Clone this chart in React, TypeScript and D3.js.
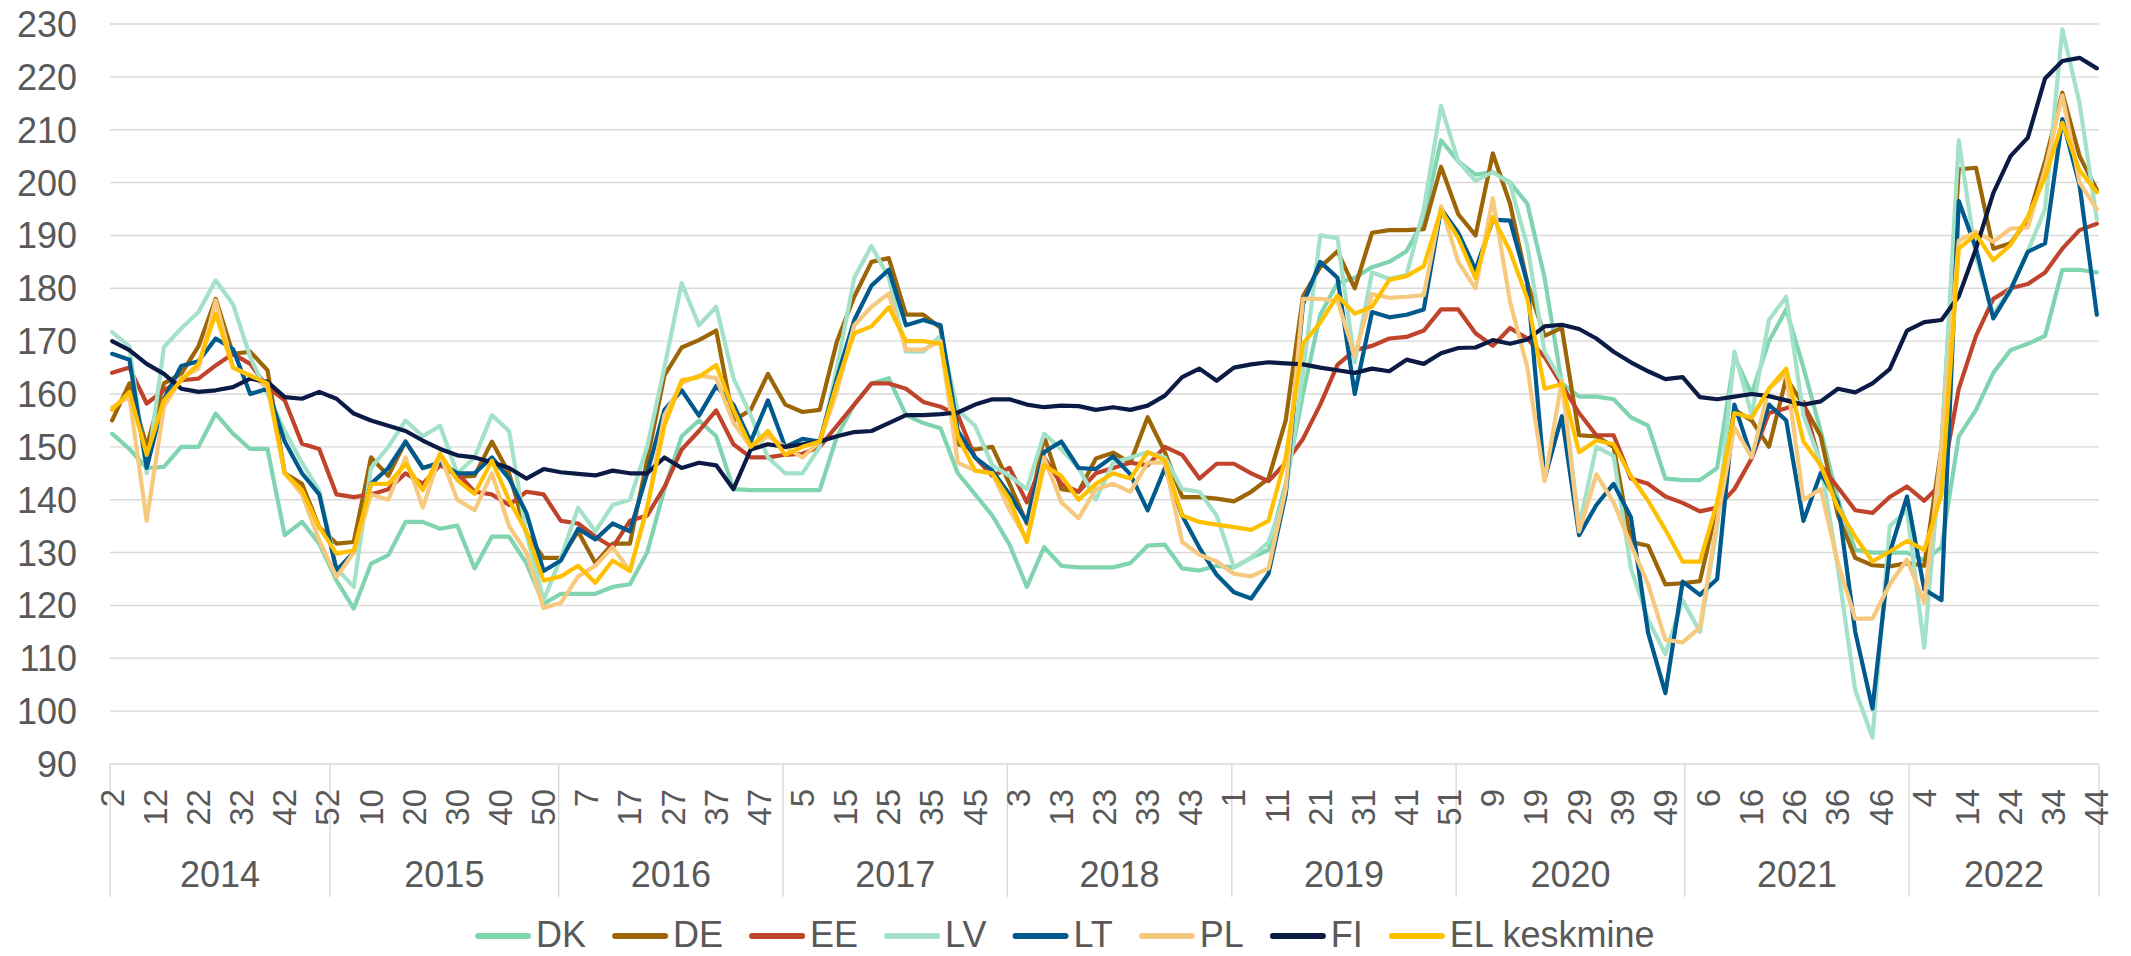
import React from 'react';
import * as d3 from 'd3';

// ---------- categories ----------
const years = [2014, 2015, 2016, 2017, 2018, 2019, 2020, 2021, 2022];
const weeksPerYear = [52, 53, 52, 52, 52, 52, 53, 52, 52];
const firstWeek = 2;
const lastWeek = 44;
const sampleStep = 4; // values below are read every 4th week
const tickStep = 10; // week labels every 10th week
const yTicks = [90, 100, 110, 120, 130, 140, 150, 160, 170, 180, 190, 200, 210, 220, 230];

const seriesNames = ['DK', 'DE', 'EE', 'LV', 'LT', 'PL', 'FI', 'EL keskmine'];
const seriesColors = ['#80d4b0', '#9c6506', '#c0442b', '#a3e2c8', '#005a8e', '#f6c97f', '#0b1b46', '#ffc000'];

// ---------- series values (every 4th week, from 2014 week 2) ----------
const dk = [
  152.5, 149.6, 146, 146.2, 150, 150, 156.3, 152.5, 149.6, 149.6, 133.3, 135.8, 131.7,
  124.7, 119.4, 127.9, 129.5, 135.8, 135.8, 134.5, 135.1, 127, 133, 133, 128, 120.3,
  122.2, 122.2, 122.2, 123.5, 124, 130, 142, 152, 155, 152, 142, 141.8, 141.8,
  141.8, 141.8, 141.8, 152, 158, 162, 163, 156, 154.5, 153.5, 145, 141, 137,
  131.5, 123.5, 131, 127.5, 127.2, 127.2, 127.2, 128, 131.3, 131.5, 127, 126.6, 127.5,
  127.2, 129, 130.5, 143, 160, 175, 181, 182, 184, 185, 187, 193, 208,
  204, 201.5, 202, 200, 196, 182, 162, 159.5, 159.5, 159, 155.6, 154, 144, 143.7,
  143.7, 146, 167, 160, 170, 176, 165, 153, 140, 130.5, 130, 130, 130,
  128.5, 131, 152, 157, 164, 168.3, 169.5, 171, 183.5, 183.5, 183,
];
const de = [
  155, 162, 150, 162, 163.8, 169, 178, 167.6, 168, 164.5, 145, 143, 134.8,
  131.7, 132, 148, 144.5, 151, 146, 147, 144.3, 144.5, 151, 145, 133.6, 129,
  129, 134, 128, 131.7, 131.7, 147.5, 163.5, 168.8, 170.2, 172, 155, 157, 163.8,
  158, 156.6, 157, 170, 178.4, 185, 185.7, 175, 175, 172.5, 150.5, 149.5, 150,
  143, 135.5, 152, 142, 141.5, 147.8, 148.9, 147, 155.6, 149, 140.5, 140.5, 140.2,
  139.7, 141.5, 144, 155, 178.5, 184, 187, 180, 190.5, 191, 191, 191.2, 203,
  194, 190, 205.5, 196, 181, 171, 172.5, 152.2, 152, 150, 132, 131.3, 124, 124.2,
  124.6, 138.7, 157, 155, 150, 163, 158, 152, 137, 129, 127.6, 127.4, 128,
  127.5, 150, 202.5, 202.8, 187.5, 188.5, 193, 204, 217, 205, 198.6,
];
const ee = [
  164, 165, 158.2, 160.7, 162.6, 162.9, 165.4, 167.6, 165.7, 161.3, 158.8, 150.6, 149.6,
  141, 140.5, 141, 142, 145, 143, 146.5, 145, 141.5, 141, 139, 141.5, 141,
  136, 135.5, 133, 131, 136, 137, 142.4, 149.5, 153, 156.9, 150.5, 148, 148,
  148.5, 148.7, 150, 154, 158, 162, 162, 161, 158.5, 157.6, 156, 148, 144.5,
  146, 139.5, 148, 143, 141.5, 145, 146, 147, 146.5, 150, 148.5, 144, 146.8,
  146.8, 145, 143.5, 147, 151.5, 158, 165.5, 168.3, 169.1, 170.5, 170.8, 172, 176,
  176, 171.5, 169.1, 172.5, 170.5, 167, 161.7, 156.4, 152.2, 152.2, 144, 143, 140.6, 139.4,
  137.8, 138.5, 142, 147.8, 156.4, 157.3, 158.5, 146.5, 142.3, 138, 137.5, 140.5, 142.5,
  139.8, 143, 161, 171, 178, 180, 180.8, 183, 187.5, 191, 192.2,
];
const lv = [
  171.7, 169, 145, 168.9, 172.4, 175.5, 181.5, 177, 167, 160, 153, 147, 141.7,
  127, 123.5, 146, 150, 155, 152, 154, 145, 148, 156, 153, 133.6, 121,
  129, 138.5, 134, 139, 140, 150, 165, 181, 173, 176.5, 163, 156, 148,
  145, 145, 150, 165, 182, 188, 182, 168, 168, 171, 157, 154, 146.5,
  144.5, 142, 152.5, 149.5, 146, 140, 147, 148, 149, 148, 142, 141.5, 137,
  127.2, 129, 132, 141, 164, 190, 189.5, 166, 183, 181.8, 182.5, 195, 214.5,
  204, 200.3, 202, 199.8, 188, 168, 162.5, 135, 150, 148.3, 127, 117.3, 110.8, 121,
  115, 135, 168, 156, 174, 178.4, 156, 147, 127, 104, 95, 135, 138,
  112, 150, 208, 186, 175, 180, 187, 195, 229, 215, 193,
];
const lt = [
  167.6, 166.5, 146, 159, 165.3, 166.2, 170.5, 168.5, 160, 161, 151, 145, 141,
  126.6, 130, 143, 146, 151, 146, 147, 145, 145, 148, 144, 137.5, 126.5,
  128.5, 134.5, 132.5, 135.5, 134, 145, 157, 160.7, 155.9, 161.5, 158, 151, 158.8,
  150, 151.5, 151, 163, 174, 180.5, 183.5, 173, 174, 173, 153, 148, 145.5,
  141, 135.8, 149, 151, 146, 145.8, 148.2, 144.8, 138, 146, 137, 130.9, 125.8,
  122.5, 121.3, 126, 141, 177, 185, 182, 160, 175.5, 174.5, 175, 176, 195,
  190.5, 183.5, 193, 192.8, 181, 144, 155.8, 133.3, 139, 143, 136.7, 114.8, 103.4, 124.5,
  122, 125, 158, 148, 158, 155, 136, 145, 139.5, 115, 100.5, 130, 140.6,
  123, 121, 196.5, 187.5, 174.3, 179.7, 186.9, 188.5, 212, 199.5, 175,
];
const pl = [
  157.5, 159.5, 136, 157.5, 163, 164.8, 177.7, 165, 163.5, 161.3, 145, 141, 132.3,
  125.4, 130, 141, 140, 148, 138.5, 148.5, 140, 138, 145, 135, 130, 119.5,
  120.5, 125.5, 127.5, 131, 126.5, 138.5, 156, 162, 163.5, 163, 154.5, 150, 152,
  150, 148, 151, 160.5, 173, 176.5, 179, 168.4, 168.4, 170, 147, 145.5, 145,
  138, 132.5, 148, 139.5, 136.5, 142, 143, 141.5, 147, 147, 132, 129.6, 128.3,
  126, 125.5, 127, 142, 178, 178, 177.6, 167.3, 178.9, 178.2, 178.4, 178.7, 195.5,
  185, 180, 197, 177.4, 165, 143.5, 162.5, 134, 144.8, 139.5, 131.5, 124, 113.5, 113,
  115.8, 136, 153.7, 148, 161, 163.8, 140, 142, 128, 117.5, 117.5, 124, 128.7,
  120.5, 150, 189, 190.7, 188.8, 191.3, 191.5, 202.5, 216.5, 200, 195,
];
const fi = [
  170, 168.3, 165.7, 163.8, 161, 160.4, 160.7, 161.3, 162.9, 162.3, 159.4, 159.1, 160.4,
  159.1, 156.3, 155, 154, 153, 151.2, 149.6, 148.4, 148, 147.1, 146, 144, 145.8,
  145.2, 144.9, 144.6, 145.5, 145, 145, 148, 146, 147, 146.5, 142, 149.5, 150.5,
  150, 150.5, 151, 152, 152.8, 153, 154.5, 156, 156, 156.2, 156.5, 158, 159,
  159, 158, 157.5, 157.8, 157.7, 157, 157.5, 157, 157.8, 159.7, 163.2, 164.8, 162.5,
  165, 165.6, 166, 165.8, 165.6, 165, 164.5, 164, 164.8, 164.3, 166.5, 165.7, 167.7,
  168.7, 168.8, 170.2, 169.5, 170.3, 172.8, 173.1, 172.3, 170.5, 168, 166, 164.3, 162.8, 163.2,
  159.4, 159, 159.5, 160, 159.6, 158.8, 158, 158.6, 161, 160.3, 162, 164.7, 172,
  173.6, 174, 178.5, 187.5, 198, 205, 208.5, 219.7, 223, 223.6, 221.6,
];
const el = [
  157, 160.4, 148.5, 158.8, 162.6, 165.7, 175.2, 165, 163.5, 162, 145, 141.8, 134.8,
  129.8, 130.4, 143, 143, 146.8, 141.8, 148.7, 143.7, 141.1, 147.4, 139.9, 134, 124.7,
  125.5, 127.5, 124.3, 128.5, 126.5, 138.5, 154, 162.6, 163.2, 165.5, 157, 150, 153,
  148.5, 150, 151, 162, 171.5, 172.8, 176.4, 170, 170, 169.5, 152, 145.5, 145,
  140, 132, 146.5, 144.5, 140, 143, 145, 144, 149, 147.5, 137, 135.8, 135.3,
  134.8, 134.3, 136, 148, 169.5, 173.5, 178.6, 175.2, 176.5, 181.6, 182.3, 184.2, 194.8,
  189.5, 181.9, 193.5, 187, 178, 161, 161.9, 149, 151.2, 150.5, 144.5, 139.8, 134.3, 128.3,
  128.3, 139.5, 156.4, 155.5, 161, 164.8, 151, 146.5, 138.5, 133, 128.3, 130.2, 132.2,
  130.5, 141, 187.5, 190.2, 185.3, 188.2, 193.5, 201, 211.3, 202.3, 198.2,
];

const seriesValues = [dk, de, ee, lv, lt, pl, fi, el];

// ---------- layout ----------
const W = 2131;
const H = 956;
const plotLeft = 110;
const plotRight = 2099;
const plotTop = 24;
const plotBottom = 764;
const FONT = '"Liberation Sans", Arial, Helvetica, sans-serif';
const TEXT = '#595959';
const GRID = '#d9d9d9';

type Cat = { key: string; year: number; week: number };

const categories: Cat[] = years.flatMap((year, k) => {
  const from = k === 0 ? firstWeek : 1;
  const to = k === years.length - 1 ? lastWeek : weeksPerYear[k];
  return d3.range(from, to + 1).map((week) => ({ key: `${year}-${week}`, year, week }));
});

function measure(text: string, size: number): number {
  const c = document.createElement('canvas').getContext('2d');
  if (!c) return text.length * size * 0.55;
  c.font = `${size}px "Liberation Sans", Arial, sans-serif`;
  return c.measureText(text).width;
}

export default function App() {
  const x = d3
    .scaleBand<string>()
    .domain(categories.map((c) => c.key))
    .range([plotLeft, plotRight])
    .padding(0);
  const bw = x.bandwidth();
  const cx = (key: string) => (x(key) as number) + bw / 2;
  const y = d3.scaleLinear().domain([90, 230]).range([plotBottom, plotTop]);

  const sampleKeys = categories.filter((_, i) => i % sampleStep === 0).map((c) => c.key);

  const line = d3
    .line<number>()
    .x((_, j) => cx(sampleKeys[j]))
    .y((v) => y(v));

  const yearGroups = years.map((yr) => {
    const cats = categories.filter((c) => c.year === yr);
    const x0 = x(cats[0].key) as number;
    const x1 = (x(cats[cats.length - 1].key) as number) + bw;
    return { yr, x0, x1 };
  });

  const weekTicks = categories.filter((_, i) => i % tickStep === 0);

  // legend
  const legFont = 36;
  const lineLen = 56;
  const textGap = 5;
  const itemGap = 26;
  const widths = seriesNames.map((n) => measure(n, legFont));
  const total = widths.reduce((a, w) => a + lineLen + textGap + w, 0) + itemGap * (seriesNames.length - 1);
  let lx = W / 2 - total / 2;
  const legendItems = seriesNames.map((n, k) => {
    const item = { name: n, color: seriesColors[k], x: lx };
    lx += lineLen + textGap + widths[k] + itemGap;
    return item;
  });
  const legY = 936;

  return (
    <svg
      width={W}
      height={H}
      viewBox={`0 0 ${W} ${H}`}
      style={{ position: 'absolute', left: 0, top: 0, background: '#fff', fontFamily: FONT }}
    >
      <rect x={0} y={0} width={W} height={H} fill="#fff" />
      {/* gridlines */}
      {yTicks.map((t) => (
        <line key={t} x1={plotLeft} x2={plotRight} y1={y(t)} y2={y(t)} stroke={GRID} strokeWidth={1.4} />
      ))}
      {/* y labels */}
      {yTicks.map((t) => (
        <text key={`yl${t}`} x={77} y={y(t)} dy="0.36em" textAnchor="end" fontSize={36} fill={TEXT}>
          {t}
        </text>
      ))}
      {/* year separators */}
      {yearGroups.map((g) => (
        <line key={`s${g.yr}`} x1={g.x0} x2={g.x0} y1={plotBottom} y2={897} stroke={GRID} strokeWidth={1.4} />
      ))}
      <line x1={plotRight} x2={plotRight} y1={plotBottom} y2={897} stroke={GRID} strokeWidth={1.4} />
      {/* week labels */}
      {weekTicks.map((c) => {
        const px = cx(c.key);
        return (
          <text
            key={`w${c.key}`}
            x={px}
            y={789}
            transform={`rotate(-90, ${px}, 789)`}
            textAnchor="end"
            dominantBaseline="central"
            fontSize={33}
            fill={TEXT}
          >
            {c.week}
          </text>
        );
      })}
      {/* year labels */}
      {yearGroups.map((g) => (
        <text key={`y${g.yr}`} x={(g.x0 + g.x1) / 2} y={887} textAnchor="middle" fontSize={36} fill={TEXT}>
          {g.yr}
        </text>
      ))}
      {/* series */}
      {seriesValues.map((vals, k) => (
        <path
          key={seriesNames[k]}
          d={line(vals) || ''}
          fill="none"
          stroke={seriesColors[k]}
          strokeWidth={4.2}
          strokeLinejoin="round"
          strokeLinecap="round"
        />
      ))}
      {/* legend */}
      {legendItems.map((it) => (
        <g key={`lg${it.name}`}>
          <line
            x1={it.x + 3}
            x2={it.x + lineLen - 3}
            y1={legY}
            y2={legY}
            stroke={it.color}
            strokeWidth={6}
            strokeLinecap="round"
          />
          <text x={it.x + lineLen + textGap} y={947} fontSize={legFont} fill={TEXT}>
            {it.name}
          </text>
        </g>
      ))}
    </svg>
  );
}
